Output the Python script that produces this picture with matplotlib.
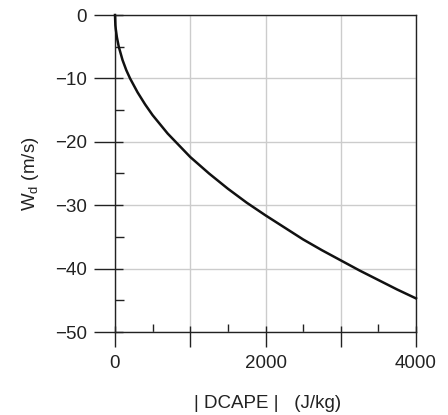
import matplotlib
matplotlib.use("Agg")
import matplotlib.pyplot as plt
from matplotlib.ticker import MultipleLocator, FixedLocator, NullFormatter

plt.rcParams['font.family'] = ['Liberation Sans', 'DejaVu Sans']

# Data
dcape = [0, 5, 10, 25, 50, 100, 150, 200, 300, 400, 500, 700, 1000, 1250, 1500,
         1750, 2000, 2250, 2500, 2750, 3000, 3250, 3500, 3750, 4000]
wd = [0, -1.6, -2.2, -3.5, -5.0, -7.1, -8.7, -10.0, -12.2, -14.1, -15.8, -18.7,
      -22.4, -25.0, -27.4, -29.6, -31.6, -33.5, -35.4, -37.1, -38.7, -40.3,
      -41.8, -43.3, -44.7]

xticks_major = [0, 1000, 2000, 3000, 4000]
xtick_labels = ['0', '', '2000', '', '4000']
yticks_major = [0, -10, -20, -30, -40, -50]
ytick_labels = ['0', '\u221210', '\u221220', '\u221230', '\u221240', '\u221250']

fig = plt.figure(figsize=(4.48, 4.15), dpi=100)
pos = [115/448, 1 - 332/415, (416 - 115)/448, (332 - 15)/415]
ax = fig.add_axes(pos)

ax.set_xlim(0, 4000)
ax.set_ylim(-50, 0)

ax.grid(True, color='#cccccc', linewidth=1.0)
ax.set_axisbelow(True)
ax.plot(dcape, wd, color='#111111', linewidth=1.8, zorder=3, clip_on=False)

for s in ax.spines.values():
    s.set_linewidth(1.0)
    s.set_color('#222222')

ax.xaxis.set_major_locator(FixedLocator(xticks_major))
ax.set_xticklabels(xtick_labels)
ax.yaxis.set_major_locator(FixedLocator(yticks_major))
ax.set_yticklabels(ytick_labels)
ax.xaxis.set_minor_locator(MultipleLocator(500))
ax.yaxis.set_minor_locator(MultipleLocator(5))

ax.tick_params(axis='x', which='major', direction='out', length=10.8, width=1.0,
               color='#222222', labelsize=13.5, pad=6)
ax.tick_params(axis='y', which='major', direction='out', length=15.1, width=1.0,
               color='#222222', labelsize=13.5, pad=5)
ax.tick_params(axis='x', which='minor', direction='in', length=5.8, width=1.0, color='#222222')
ax.tick_params(axis='y', which='minor', direction='in', length=6.5, width=1.0, color='#222222')
ax.tick_params(labelcolor='#222222')

# inner parts of major ticks
ax2 = fig.add_axes(pos, frameon=False)
ax2.set_xlim(0, 4000)
ax2.set_ylim(-50, 0)
ax2.xaxis.set_major_locator(FixedLocator(xticks_major))
ax2.yaxis.set_major_locator(FixedLocator(yticks_major))
ax2.xaxis.set_major_formatter(NullFormatter())
ax2.yaxis.set_major_formatter(NullFormatter())
ax2.tick_params(axis='x', which='major', direction='in', length=4.3, width=1.0, color='#222222')
ax2.tick_params(axis='y', which='major', direction='in', length=5.8, width=1.0, color='#222222')
ax2.patch.set_visible(False)

ax.set_ylabel('W$_\\mathregular{d}$ (m/s)', fontsize=13.5, color='#222222', labelpad=10)
fig.text(268/448, 1 - 403/415, '| DCAPE |   (J/kg)', ha='center', va='center',
         fontsize=13.5, color='#222222')

fig.savefig('out.png', dpi=100)
